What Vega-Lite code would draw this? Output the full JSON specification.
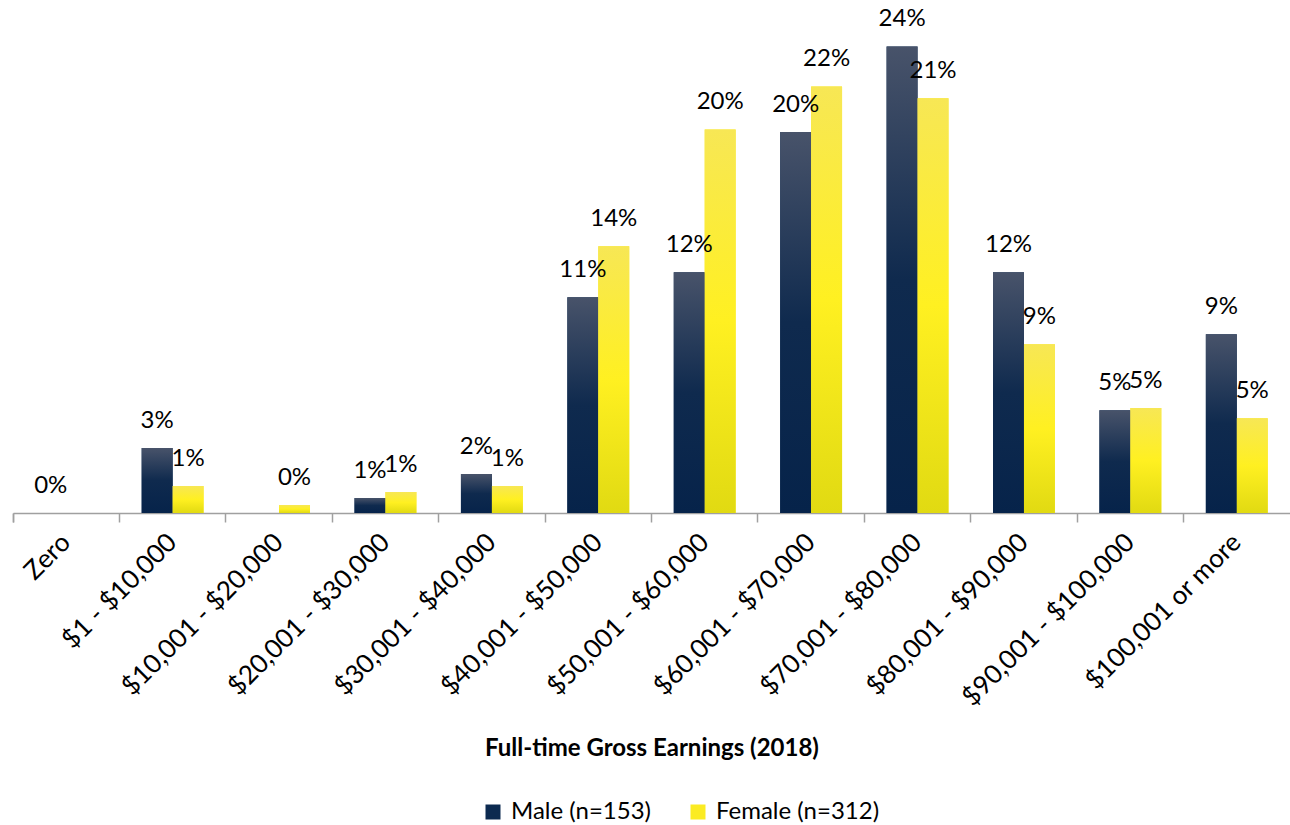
{
  "$schema": "https://vega.github.io/schema/vega-lite/v6.json",
  "width": 1277,
  "height": 486,
  "padding": {"left": 13, "top": 27, "right": 0, "bottom": 312},
  "autosize": {"type": "none"},
  "background": "white",
  "config": {"view": {"stroke": null}, "font": "Lato"},
  "data": {"values": [
    {"band": "Zero", "sex": "Male (n=153)", "pct": 0},
    {"band": "Zero", "sex": "Female (n=312)", "pct": null},
    {"band": "$1 - $10,000", "sex": "Male (n=153)", "pct": 0.0334},
    {"band": "$1 - $10,000", "sex": "Female (n=312)", "pct": 0.0139},
    {"band": "$10,001 - $20,000", "sex": "Male (n=153)", "pct": null},
    {"band": "$10,001 - $20,000", "sex": "Female (n=312)", "pct": 0.0041},
    {"band": "$20,001 - $30,000", "sex": "Male (n=153)", "pct": 0.0077},
    {"band": "$20,001 - $30,000", "sex": "Female (n=312)", "pct": 0.0108},
    {"band": "$30,001 - $40,000", "sex": "Male (n=153)", "pct": 0.02},
    {"band": "$30,001 - $40,000", "sex": "Female (n=312)", "pct": 0.0139},
    {"band": "$40,001 - $50,000", "sex": "Male (n=153)", "pct": 0.111},
    {"band": "$40,001 - $50,000", "sex": "Female (n=312)", "pct": 0.1372},
    {"band": "$50,001 - $60,000", "sex": "Male (n=153)", "pct": 0.1238},
    {"band": "$50,001 - $60,000", "sex": "Female (n=312)", "pct": 0.1973},
    {"band": "$60,001 - $70,000", "sex": "Male (n=153)", "pct": 0.196},
    {"band": "$60,001 - $70,000", "sex": "Female (n=312)", "pct": 0.2194},
    {"band": "$70,001 - $80,000", "sex": "Male (n=153)", "pct": 0.24},
    {"band": "$70,001 - $80,000", "sex": "Female (n=312)", "pct": 0.2133},
    {"band": "$80,001 - $90,000", "sex": "Male (n=153)", "pct": 0.1238},
    {"band": "$80,001 - $90,000", "sex": "Female (n=312)", "pct": 0.0868},
    {"band": "$90,001 - $100,000", "sex": "Male (n=153)", "pct": 0.0529},
    {"band": "$90,001 - $100,000", "sex": "Female (n=312)", "pct": 0.054},
    {"band": "$100,001 or more", "sex": "Male (n=153)", "pct": 0.092},
    {"band": "$100,001 or more", "sex": "Female (n=312)", "pct": 0.0488}
  ]},
  "encoding": {
    "x": {
      "field": "band", "type": "nominal", "sort": null,
      "scale": {"paddingInner": 0, "paddingOuter": 0},
      "axis": {
        "title": "Full-time Gross Earnings (2018)",
        "titleFontSize": 24, "titleFontWeight": "bold", "titleColor": "#000000", "titlePadding": 26,
        "labelAngle": -45, "labelAlign": "right", "labelBaseline": "middle",
        "labelFontSize": 26, "labelColor": "#000000", "labelPadding": 16, "labelLimit": 0,
        "bandPosition": 0, "tickExtra": true,
        "domainColor": "#a0a0a0", "tickColor": "#a0a0a0", "tickSize": 9, "domainWidth": 1.5, "tickWidth": 1.5
      }
    },
    "xOffset": {"field": "sex", "type": "nominal", "sort": ["Male (n=153)", "Female (n=312)"],
      "scale": {"domain": ["Male (n=153)", "Female (n=312)"], "paddingInner": 0, "paddingOuter": 0.72}},
    "y": {"field": "pct", "type": "quantitative", "scale": {"domain": [0, 0.25]}, "axis": null}
  },
  "layer": [
    {
      "mark": {"type": "bar"},
      "encoding": {
        "color": {
          "field": "sex", "type": "nominal",
          "scale": {"domain": ["Male (n=153)", "Female (n=312)"], "range": ["#0c2a50", "#fbeb22"]},
          "legend": {
            "title": null, "orient": "none", "direction": "horizontal",
            "legendX": 468, "legendY": 773,
            "symbolType": "square", "symbolSize": 225, "symbolStrokeWidth": 0,
            "labelFontSize": 24, "labelColor": "#000000", "labelLimit": 400, "columnPadding": 34, "labelOffset": 6
          }
        }
      }
    },
    {
      "transform": [{"filter": "datum.sex === 'Male (n=153)'"}],
      "mark": {"type": "bar", "color": {"gradient": "linear", "x1": 0, "y1": 0, "x2": 0, "y2": 1, "stops": [
        {"offset": 0, "color": "#48536a"}, {"offset": 0.5, "color": "#0f2a4e"}, {"offset": 1, "color": "#06234a"}]}}
    },
    {
      "transform": [{"filter": "datum.sex === 'Female (n=312)'"}],
      "mark": {"type": "bar", "color": {"gradient": "linear", "x1": 0, "y1": 0, "x2": 0, "y2": 1, "stops": [
        {"offset": 0, "color": "#f7e755"}, {"offset": 0.5, "color": "#fff021"}, {"offset": 1, "color": "#e1da12"}]}}
    },
    {
      "mark": {"type": "text", "fontSize": 24, "color": "#000000", "baseline": "alphabetic", "dy": -20},
      "encoding": {
        "text": {"field": "pct", "type": "quantitative", "format": ".0%"}
      }
    }
  ]
}
